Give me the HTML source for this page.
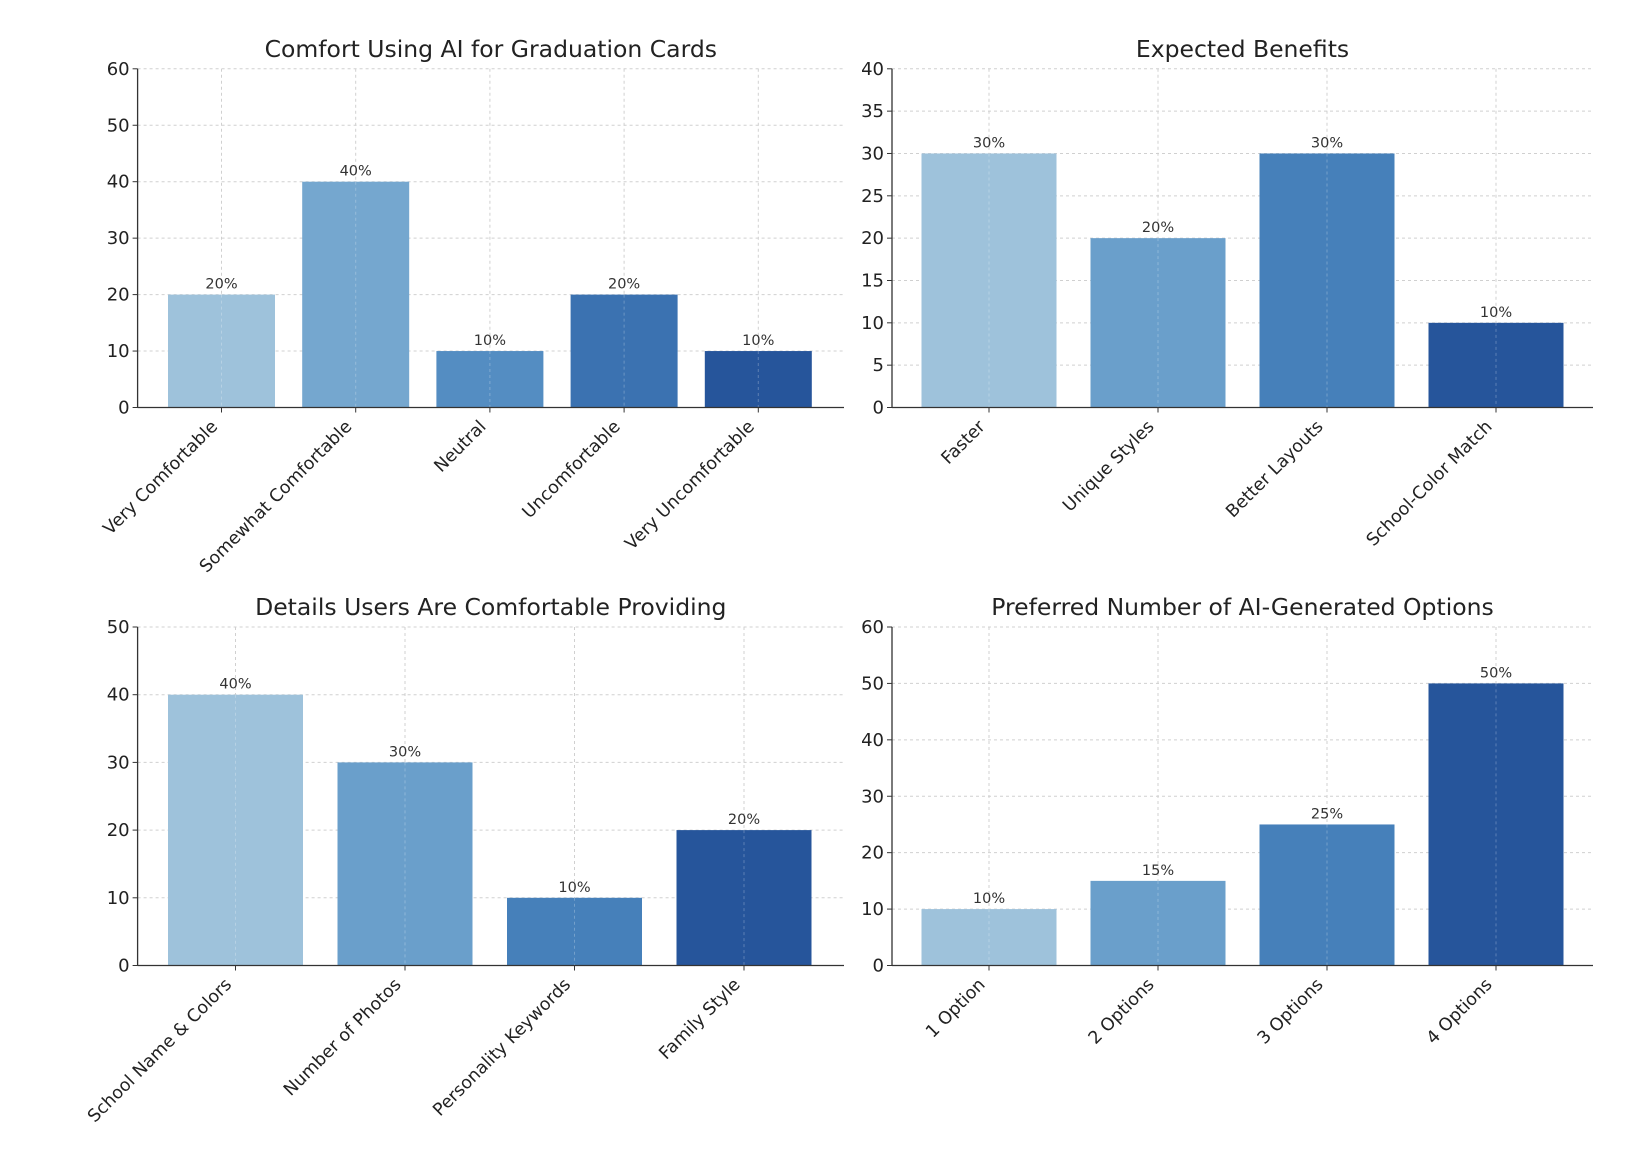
<!DOCTYPE html>
<html><head><meta charset="utf-8"><style>
body{margin:0;background:#fff;}
svg text{font-family:"DejaVu Sans","Liberation Sans",sans-serif;}
</style></head><body>
<svg id="c" width="1652" height="1160" xmlns="http://www.w3.org/2000/svg"></svg>
<script>
const cats1=["Very Comfortable","Somewhat Comfortable","Neutral","Uncomfortable","Very Uncomfortable"];
const vals1=[20,40,10,20,10];
const ticks1=[0,10,20,30,40,50,60];
const cats2=["Faster","Unique Styles","Better Layouts","School-Color Match"];
const vals2=[30,20,30,10];
const ticks2=[0,5,10,15,20,25,30,35,40];
const cats3=["School Name & Colors","Number of Photos","Personality Keywords","Family Style"];
const vals3=[40,30,10,20];
const ticks3=[0,10,20,30,40,50];
const cats4=["1 Option","2 Options","3 Options","4 Options"];
const vals4=[10,15,25,50];
const ticks4=[0,10,20,30,40,50,60];
const colors5=["#9ec2db","#75a7cf","#548dc2","#3b72b1","#26559b"];
const colors4=["#9ec2db","#6a9fcb","#4680ba","#26559b"];
const NS="http://www.w3.org/2000/svg";
const svg=document.getElementById('c');
function mk(tag,attrs,parent){const e=document.createElementNS(NS,tag);for(const k in attrs)e.setAttribute(k,attrs[k]);(parent||svg).appendChild(e);return e;}
function chart(cfg){
  const g=mk('g',{});
  
  
  const {x0,x1,y0,y1,cats,vals,ticks,colors,c0,step,bw}=cfg;
  const ymax=ticks[ticks.length-1];
  const Y=v=>y1-(v/ymax)*(y1-y0);
  const X=i=>c0+step*i;
  ticks.forEach(t=>{
    const l=mk('line',{x1:x0,x2:x1,y1:Y(t),y2:Y(t),stroke:'#d0d0d0','stroke-dasharray':'3,3','stroke-width':1},g);
    
    
  });
  cats.forEach((c,i)=>{
    const l=mk('line',{x1:X(i),x2:X(i),y1:y0,y2:y1,stroke:'#d0d0d0','stroke-dasharray':'3,3','stroke-width':1},g);
    
    
  });
  vals.forEach((v,i)=>{
    const r=mk('rect',{x:X(i)-bw/2,y:Y(v),width:bw,height:y1-Y(v),fill:colors[i]},g);
    
    
    const gl=mk('line',{x1:X(i),x2:X(i),y1:Y(v),y2:y1,stroke:'#ffffff','stroke-opacity':0.25,'stroke-dasharray':'3,3'},g);
    
    
    const t=mk('text',{x:X(i),y:Y(v)-6,'text-anchor':'middle','font-size':14.5,fill:'#333'},g);
    t.textContent=v+'%';
    
    
    const tk=mk('line',{x1:X(i),x2:X(i),y1:y1,y2:y1+5,stroke:'#333'},g);
    
    
    const xl=mk('text',{x:X(i)-3,y:y1+20,'text-anchor':'end','font-size':17.5,fill:'#222',transform:`rotate(-45 ${X(i)-3} ${y1+20})`},g);
    xl.textContent=cats[i];
    
    
  });
  ticks.forEach(t=>{
    const tk=mk('line',{x1:x0-5,x2:x0,y1:Y(t),y2:Y(t),stroke:'#333'},g);
    
    
    const tl=mk('text',{x:x0-8,y:Y(t)+6,'text-anchor':'end','font-size':18,fill:'#222'},g);
    tl.textContent=t;
    
    
  });
  const ax=mk('line',{x1:x0,x2:x0,y1:y0,y2:y1,stroke:'#333','stroke-width':1.3},g);
  
  
  const bx=mk('line',{x1:x0,x2:x1,y1:y1,y2:y1,stroke:'#333','stroke-width':1.3},g);
  
  
  const tt=mk('text',{x:(x0+x1)/2,y:y0-12,'text-anchor':'middle','font-size':23.5,fill:'#222'},g);
  tt.textContent=cfg.title;
  
  
}
chart({name:'comfort-chart',title:'Comfort Using AI for Graduation Cards',x0:137.6,x1:844,y0:68.8,y1:407.5,cats:cats1,vals:vals1,ticks:ticks1,colors:colors5,c0:221.5,step:134.2,bw:107});
chart({name:'benefits-chart',title:'Expected Benefits',x0:892,x1:1593,y0:68.8,y1:407.5,cats:cats2,vals:vals2,ticks:ticks2,colors:colors4,c0:989,step:169,bw:135});
chart({name:'details-chart',title:'Details Users Are Comfortable Providing',x0:137.6,x1:844,y0:627,y1:965.5,cats:cats3,vals:vals3,ticks:ticks3,colors:colors4,c0:235.5,step:169.5,bw:135});
chart({name:'options-chart',title:'Preferred Number of AI-Generated Options',x0:892,x1:1593,y0:627,y1:965.5,cats:cats4,vals:vals4,ticks:ticks4,colors:colors4,c0:989,step:169,bw:135});
</script>
</body></html>
